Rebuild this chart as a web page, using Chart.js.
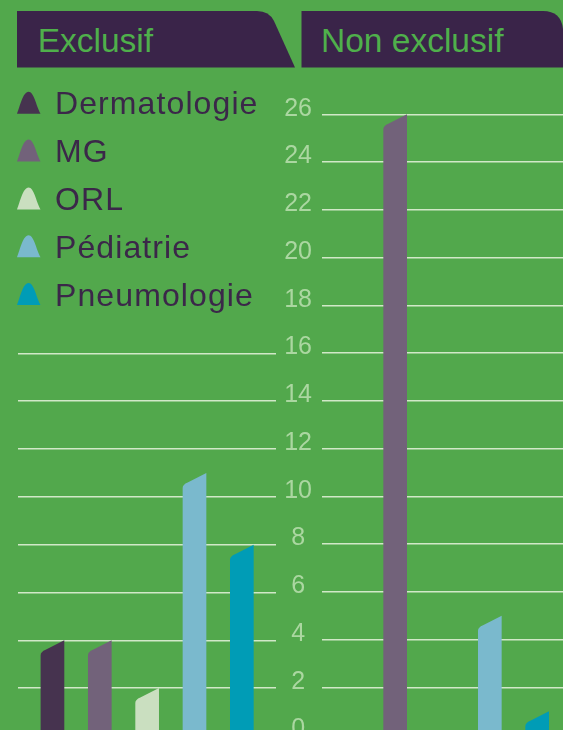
<!DOCTYPE html>
<html lang="fr">
<head>
<meta charset="utf-8">
<title>Exclusif / Non exclusif</title>
<script src="https://cdn.jsdelivr.net/npm/chart.js@4/dist/chart.umd.min.js"></script>
<style>
  html, body { margin: 0; padding: 0; }
  body { width: 563px; height: 730px; overflow: hidden; background: #52a84c; position: relative; }
  #tabs { position: absolute; left: 0; top: 0; }
  #left { position: absolute; left: 0; top: 0; }
  #right { position: absolute; left: 276px; top: 0; }
</style>
</head>
<body>
<svg id="tabs" width="563" height="80"></svg>
<canvas id="left" width="280" height="760"></canvas>
<canvas id="right" width="287" height="760"></canvas>
<script>
// data
const categories = ["Exclusif", "Non exclusif"]
const specialties = ["Dermatologie", "MG", "ORL", "Pédiatrie", "Pneumologie"]
const exclusif = [4, 4, 2, 11, 8]
const nonExclusif = [0, 26, 0, 5, 1]
const yMin = 0
const yMax = 26
const yStep = 2

const colors = ["#46334f", "#72627a", "#cadfc0", "#7ab9cd", "#009cb6"]
const gridColor = "rgba(232, 243, 222, 0.85)"
const tickColor = "#abd7a1"
const purple = "#3a2449"

// header tabs
const svgNS = "http://www.w3.org/2000/svg"
const tabs = document.getElementById("tabs")
const tabPaths = [
  "M17 11 L257 11 Q269 11 274 21 L295 67.5 L17 67.5 Z",
  "M301.5 11 L543 11 Q561 11 563 29 L563 67.5 L301.5 67.5 Z",
]
const tabTextX = [37.7, 321]
categories.forEach((cat, i) => {
  const p = document.createElementNS(svgNS, "path")
  p.setAttribute("d", tabPaths[i])
  p.setAttribute("fill", purple)
  tabs.appendChild(p)
  const t = document.createElementNS(svgNS, "text")
  t.setAttribute("x", tabTextX[i])
  t.setAttribute("y", 51.7)
  t.setAttribute("fill", "#4fb04b")
  t.setAttribute("font-family", "Liberation Sans, Arial, sans-serif")
  t.setAttribute("font-size", "33.5")
  t.textContent = cat
  tabs.appendChild(t)
})

// bars with a slanted, rounded top
const finBars = {
  id: "finBars",
  beforeDatasetsDraw(chart) {
    const ctx = chart.ctx
    chart.data.datasets.forEach((ds, i) => {
      const meta = chart.getDatasetMeta(i)
      meta.data.forEach((bar, j) => {
        if (!ds.data[j]) return
        const left = bar.x - bar.width / 2
        const right = bar.x + bar.width / 2
        const top = bar.y
        const base = bar.base
        ctx.save()
        ctx.fillStyle = ds.backgroundColor
        ctx.beginPath()
        ctx.moveTo(left, base)
        ctx.lineTo(left, top + 15)
        ctx.quadraticCurveTo(left, top + 11.5, left + 5, top + 9.5)
        ctx.lineTo(right, top)
        ctx.lineTo(right, base)
        ctx.closePath()
        ctx.fill()
        ctx.restore()
      })
    })
    return false
  },
}

// legend drawn in the free top part of the left panel
const finLegend = {
  id: "finLegend",
  afterDraw(chart) {
    const ctx = chart.ctx
    const y = chart.scales.y
    chart.data.datasets.forEach((ds, i) => {
      const base = y.getPixelForValue(yMax - i * yStep)
      const x0 = 17
      ctx.save()
      ctx.fillStyle = ds.backgroundColor
      ctx.beginPath()
      ctx.moveTo(x0, base - 0.5)
      ctx.bezierCurveTo(x0 + 3, base - 8, x0 + 6, base - 22.5, x0 + 11.5, base - 22.5)
      ctx.bezierCurveTo(x0 + 17, base - 22.5, x0 + 19, base - 9, x0 + 23.5, base - 0.5)
      ctx.closePath()
      ctx.fill()
      ctx.fillStyle = "#3b2749"
      ctx.font = "32px 'Liberation Sans', Arial, sans-serif"
      ctx.letterSpacing = "1.1px"
      ctx.textBaseline = "alphabetic"
      ctx.fillText(ds.label, 55, base)
      ctx.restore()
    })
  },
}

function makeDatasets(values) {
  return specialties.map((name, i) => ({
    label: name,
    data: [values[i]],
    backgroundColor: colors[i],
  }))
}

const yScale = (showLabels, gridMax) => ({
  min: yMin,
  max: yMax,
  border: { display: false },
  grid: {
    drawTicks: false,
    lineWidth: 1.5,
    color: (c) => (c.tick && c.tick.value <= gridMax ? gridColor : "transparent"),
  },
  ticks: {
    display: showLabels,
    stepSize: yStep,
    color: tickColor,
    padding: 10,
    crossAlign: "center",
    labelOffset: -5.5,
    font: { family: "'Liberation Sans', Arial, sans-serif", size: 25 },
  },
  afterFit: (scale) => {
    scale.width = showLabels ? 46 : 0
  },
})

new Chart(document.getElementById("left"), {
  type: "bar",
  data: { labels: [categories[0]], datasets: makeDatasets(exclusif) },
  options: {
    responsive: false,
    animation: false,
    layout: { padding: { top: 114.3, bottom: 24.1, left: 18.3, right: 4 } },
    datasets: { bar: { categoryPercentage: 0.9186, barPercentage: 0.5 } },
    plugins: { legend: { display: false }, tooltip: { enabled: false } },
    scales: {
      x: { display: false },
      y: yScale(false, 16),
    },
  },
  plugins: [finBars, finLegend],
})

new Chart(document.getElementById("right"), {
  type: "bar",
  data: { labels: [categories[1]], datasets: makeDatasets(nonExclusif) },
  options: {
    responsive: false,
    animation: false,
    layout: { padding: { top: 114.3, bottom: 24.1, left: 0, right: 0 } },
    datasets: { bar: { categoryPercentage: 0.982, barPercentage: 0.5 } },
    plugins: { legend: { display: false }, tooltip: { enabled: false } },
    scales: {
      x: { display: false },
      y: yScale(true, yMax),
    },
  },
  plugins: [finBars],
})
</script>
</body>
</html>
